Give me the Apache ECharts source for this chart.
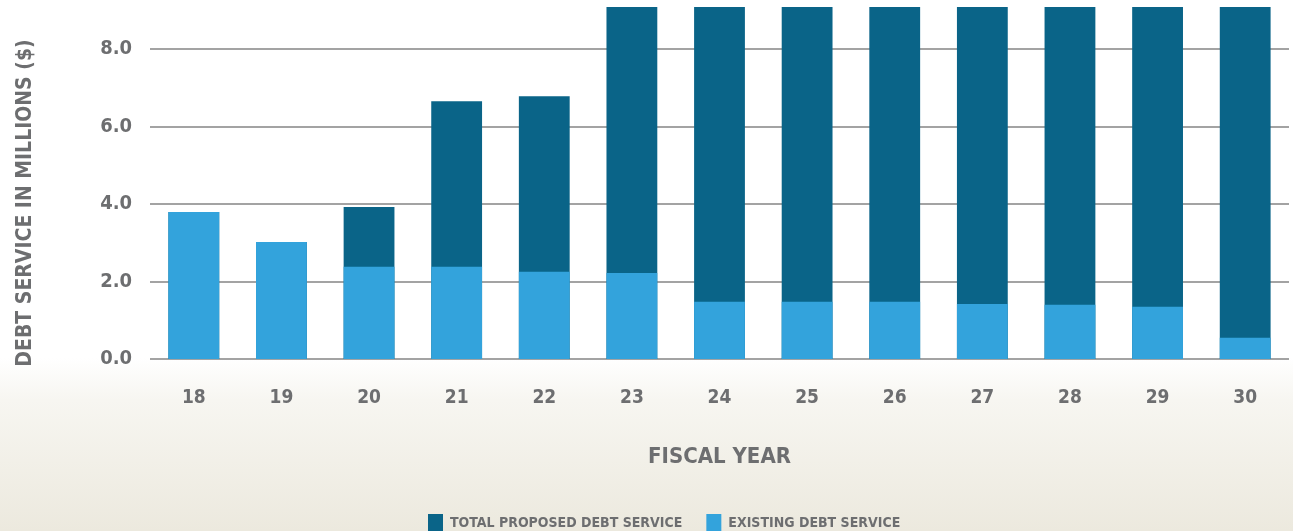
<!DOCTYPE html>
<html lang="en">
<head>
    <meta charset="UTF-8"/>
    <title>Debt Service</title>
    <script src="https://cdn.jsdelivr.net/npm/echarts@6/dist/echarts.min.js"></script>
    <style>
        html, body { margin: 0; padding: 0; }
        body {
            width: 1293px; height: 531px;
            background: linear-gradient(to bottom, #ffffff 0px, #ffffff 358px, #f7f6f1 400px, #ece9de 531px);
        }
        #tx { width: 1293px; height: 531px; }
    </style>
</head>
<body>
<div id="tx"></div>
<script type="text/javascript">
    // fiscal years
    var years = ['18', '19', '20', '21', '22', '23', '24', '25', '26', '27', '28', '29', '30'];
    // total proposed debt service (top of dark bar), millions; 23-30 run off the top of the chart
    var totalProposed = [3.79, 3.02, 3.92, 6.65, 6.78, 9.5, 9.5, 9.5, 9.5, 9.5, 9.5, 9.5, 9.5];
    // existing debt service, millions
    var existing = [3.79, 3.02, 2.38, 2.38, 2.25, 2.22, 1.48, 1.48, 1.48, 1.42, 1.40, 1.35, 0.55];

    var grey = '#6d6e70';
    var cond = '"DejaVu Sans Condensed", "DejaVu Sans", sans-serif';

    var myChart = echarts.init(document.getElementById('tx'));
    var option = {
        backgroundColor: 'transparent',
        animation: false,
        grid: { left: 150, right: 4, top: 7, bottom: 172, outerBoundsMode: 'none', containLabel: false },
        legend: {
            left: 423, top: 509,
            itemWidth: 15, itemHeight: 19, itemGap: 24,
            icon: 'rect',
            textStyle: { color: grey, fontFamily: cond, fontWeight: 'bold', fontSize: 14, padding: [0, 0, 0, 2] },
            data: ['TOTAL PROPOSED DEBT SERVICE', 'EXISTING DEBT SERVICE']
        },
        xAxis: {
            type: 'category',
            data: years,
            name: 'FISCAL YEAR',
            nameLocation: 'middle',
            nameGap: 87,
            nameTextStyle: { color: grey, fontFamily: cond, fontWeight: 'bold', fontSize: 22 },
            axisLine: { show: false },
            axisTick: { show: false },
            axisLabel: { color: grey, fontFamily: cond, fontWeight: 'bold', fontSize: 19, margin: 30 }
        },
        yAxis: {
            type: 'value',
            min: 0,
            max: 9.08,
            interval: 2,
            name: 'DEBT SERVICE IN MILLIONS ($)',
            nameLocation: 'middle',
            nameGap: 114,
            nameTextStyle: { color: grey, fontFamily: cond, fontWeight: 'bold', fontSize: 21, padding: [0, 40, 0, 0] },
            axisLine: { show: false },
            axisTick: { show: false },
            axisLabel: {
                color: grey, fontFamily: cond, fontWeight: 'bold', fontSize: 20, margin: 18,
                showMaxLabel: false,
                formatter: function (v) { return v.toFixed(1); }
            },
            splitLine: { showMaxLine: false, lineStyle: { color: '#a3a3a3', width: 2 } }
        },
        series: [
            {
                name: 'TOTAL PROPOSED DEBT SERVICE',
                type: 'bar',
                data: totalProposed,
                barWidth: '58%',
                itemStyle: { color: '#0a6488' }
            },
            {
                name: 'EXISTING DEBT SERVICE',
                type: 'bar',
                data: existing,
                barWidth: '58%',
                barGap: '-100%',
                itemStyle: { color: '#33a3dc' }
            }
        ]
    };
    myChart.setOption(option);
</script>
</body>
</html>
